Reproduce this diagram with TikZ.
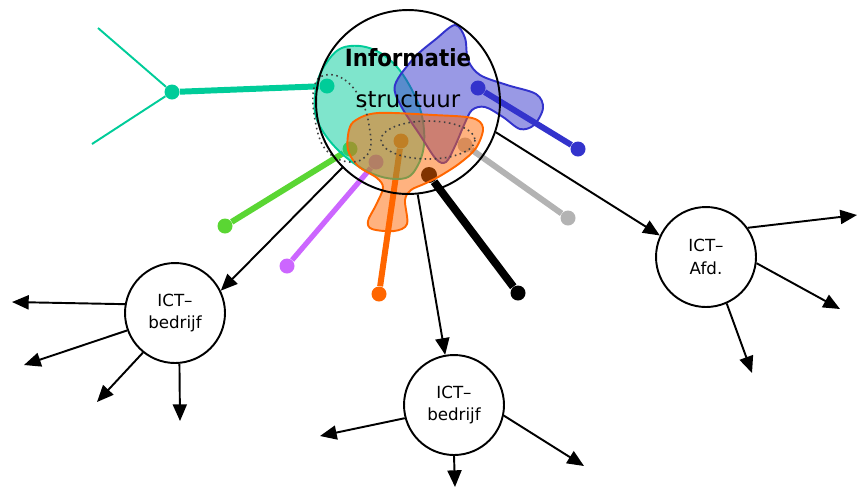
\documentclass[tikz,border=0pt]{standalone}
\usepackage{fontspec}
\setmainfont{DejaVu Sans}
\newfontfamily\condfont{DejaVu Sans Condensed}
\usetikzlibrary{arrows.meta}
\definecolor{cteal}{RGB}{0,204,153}
\definecolor{cgreen}{RGB}{90,214,51}
\definecolor{cpurple}{RGB}{204,102,255}
\definecolor{corange}{RGB}{255,102,0}
\definecolor{cgray}{RGB}{179,179,179}
\definecolor{cblue}{RGB}{51,51,204}
\begin{document}
\begin{tikzpicture}[x=0.02cm,y=-0.02cm,
  dotn/.style={circle, fill=#1, inner sep=0pt, minimum size=0.3cm},
  cline/.style={line width=3.4pt, draw=#1},
  thinl/.style={line width=1.1pt, draw=cteal},
  arr/.style={line width=1.1pt, -{Triangle[length=9.5pt,width=8pt]}},
  blobs/.style={draw=#1, fill=#1, fill opacity=0.5, line width=1.1pt},
  dotted line/.style={dotted, line width=0.9pt, black!75},
  bigc/.style={circle, draw, line width=1.1pt, minimum size=3.68cm, inner sep=0pt},
  smallc/.style={circle, draw, line width=1.1pt, minimum size=2cm, inner sep=0pt, fill=white},
  lbl/.style={font=\fontsize{9.5}{13}\selectfont, align=center}]
\useasboundingbox (0,0) rectangle (857,488);

% colored lines with dots
\node[dotn=cteal] (t1) at (327,86) {};
\node[dotn=cteal] (t2) at (172,92) {};
\coordinate (t3) at (98,28);
\coordinate (t4) at (92,144);
\draw[cline=cteal] (t1) -- (t2);
\draw[thinl] (t2) -- (t3);
\draw[thinl] (t2) -- (t4);

\node[dotn=cgreen] (g1) at (350,149) {};
\node[dotn=cgreen] (g2) at (225,226) {};
\draw[cline=cgreen] (g1) -- (g2);

\node[dotn=cpurple] (p1) at (376,162) {};
\node[dotn=cpurple] (p2) at (287,266) {};
\draw[cline=cpurple, line width=3pt] (p1) -- (p2);

\node[dotn=corange] (o1) at (401,141) {};
\node[dotn=corange] (o2) at (379,294) {};
\draw[cline=corange] (o1) -- (o2);

\node[dotn=black, minimum size=0.32cm] (k1) at (429,175) {};
\node[dotn=black] (k2) at (518,293) {};
\draw[cline=black, line width=4.5pt] (k1) -- (k2);

\node[dotn=cgray] (y1) at (465,145) {};
\node[dotn=cgray] (y2) at (568,218) {};
\draw[cline=cgray] (y1) -- (y2);

\node[dotn=cblue] (b1) at (478,88) {};
\node[dotn=cblue] (b2) at (578,149) {};
\draw[cline=cblue] (b1) -- (b2);

% blobs
\draw[blobs=cteal] plot[smooth cycle, tension=0.7] coordinates {(350,46) (385,56) (412,90) (424,130) (418,165) (398,179) (358,166) (322,130) (315,95) (327,62)};
\draw[blobs=cblue] plot[smooth cycle, tension=0.55] coordinates {(455,25) (465,38) (468,60) (480,75) (507,85) (536,94) (543,108) (534,125) (520,129) (503,117) (485,107) (472,110) (464,125) (455,146) (446,162) (436,159) (420,135) (401,106) (395,85) (414,58) (436,39)};
\draw[blobs=corange] plot[smooth cycle, tension=0.55] coordinates {(356,120) (378,113) (433,115) (472,118) (483,128) (476,148) (460,163) (440,176) (424,184) (411,190) (405,200) (407,224) (394,231) (372,229) (368,221) (376,205) (383,188) (377,178) (358,166) (348,150) (349,130)};

% dotted curves
\draw[dotted line] plot[smooth cycle, tension=0.7] coordinates {(325,75) (345,80) (361,100) (369,125) (369,152) (350,162) (326,150) (315,120) (314,88)};
\draw[dotted line] (428,140) ellipse [x radius=47, y radius=19];

% main circle
\node[bigc] (I) at (408,102) {};
\node[font=\condfont\fontsize{13.5}{16}\selectfont\bfseries] (it1) at (408,58) {Informatie};
\node[font=\fontsize{13}{15}\selectfont] (it2) at (408,100) {structuur};

% small circles
\node[smallc, lbl] (L) at (175,313) {ICT–\\bedrijf};
\node[smallc, lbl] (B) at (454,405) {ICT–\\bedrijf};
\node[smallc, lbl] (A) at (706,257) {ICT–\\Afd.};

% arrows from main circle
\draw[arr] (I.225) -- (L.26);
\draw[arr] (I.276) -- (B.100);
\draw[arr] (I.341) -- (A.155);

% arrows from left circle
\coordinate (le1) at (12,302);
\coordinate (le2) at (24,365);
\coordinate (le3) at (97,402);
\coordinate (le4) at (180,421);
\draw[arr] (L.170) -- (le1);
\draw[arr] (L.200) -- (le2);
\draw[arr] (L.231) -- (le3);
\draw[arr] (L.275) -- (le4);

% arrows from bottom circle
\coordinate (be1) at (320,436);
\coordinate (be2) at (455,487);
\coordinate (be3) at (584,466);
\draw[arr] (B.195) -- (be1);
\draw[arr] (B.south) -- (be2);
\draw[arr] (B.348) -- (be3);

% arrows from Afd circle
\coordinate (ae1) at (857,215);
\coordinate (ae2) at (840,309);
\coordinate (ae3) at (752,373);
\draw[arr] (A.35) -- (ae1);
\draw[arr] (A.353) -- (ae2);
\draw[arr] (A.294) -- (ae3);
\end{tikzpicture}
\end{document}
